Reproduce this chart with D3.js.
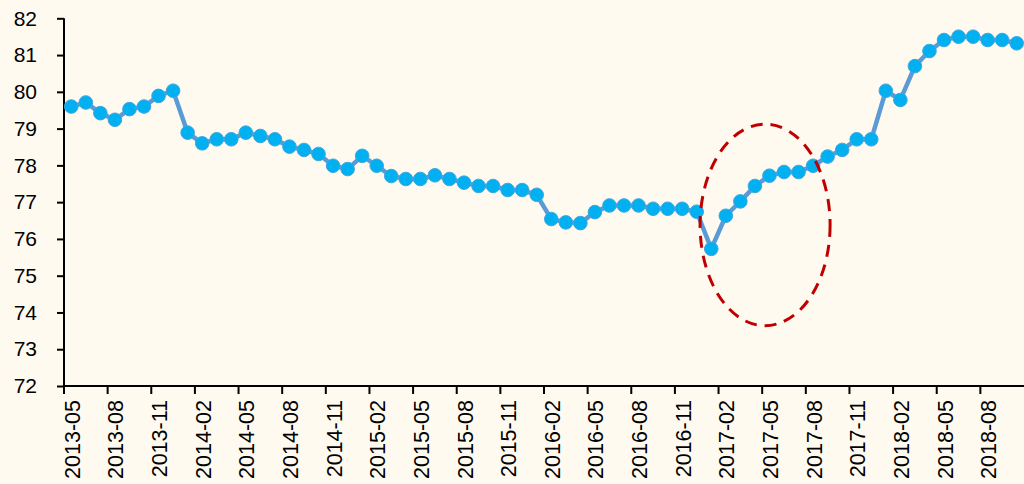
<!DOCTYPE html>
<html><head><meta charset="utf-8">
<script src="https://cdn.jsdelivr.net/npm/d3@7"></script>
<style>body{margin:0;background:#fffaf0;}svg{display:block;}</style>
</head><body>
<script>
const categories = ["2013-05","2013-06","2013-07","2013-08","2013-09","2013-10","2013-11","2013-12",
"2014-01","2014-02","2014-03","2014-04","2014-05","2014-06","2014-07","2014-08","2014-09","2014-10","2014-11","2014-12",
"2015-01","2015-02","2015-03","2015-04","2015-05","2015-06","2015-07","2015-08","2015-09","2015-10","2015-11","2015-12",
"2016-01","2016-02","2016-03","2016-04","2016-05","2016-06","2016-07","2016-08","2016-09","2016-10","2016-11","2016-12",
"2017-01","2017-02","2017-03","2017-04","2017-05","2017-06","2017-07","2017-08","2017-09","2017-10","2017-11","2017-12",
"2018-01","2018-02","2018-03","2018-04","2018-05","2018-06","2018-07","2018-08","2018-09","2018-10"];
const values = [79.60,79.71,79.42,79.24,79.53,79.60,79.89,80.03,78.89,78.60,78.71,78.71,78.89,78.80,78.71,78.51,78.42,78.31,77.99,77.90,78.26,77.99,
77.71,77.63,77.63,77.73,77.63,77.53,77.44,77.44,77.33,77.33,77.20,76.54,76.45,76.43,76.73,76.91,76.91,76.91,76.82,76.82,76.82,76.74,
75.73,76.63,77.02,77.44,77.72,77.82,77.82,77.99,78.24,78.42,78.71,78.71,80.03,79.78,80.70,81.11,81.41,81.50,81.50,81.41,81.41,81.32];
const yTicks = [72,73,74,75,76,77,78,79,80,81,82];
const xTickLabels = categories.filter((d,i)=>i%3===0);
// annotation ellipse (data coords: center category index, center value, half-width in months, half-height in units)
const ellipseSpec = {cIndex: 47.7, cValue: 76.38, rMonths: 4.47, rUnits: 2.74};

const W=1024,H=484;
const svg=d3.select("body").append("svg").attr("width",W).attr("height",H);
svg.append("rect").attr("width",W).attr("height",H).attr("fill","#fffaf0");

const x=d3.scaleBand().domain(categories).range([64,1024]).paddingInner(0).paddingOuter(0);
const bw=x.bandwidth();
const cx=d=>x(d)+bw/2;
const y=d3.scaleLinear().domain([72,82]).range([386,18.3]);
const font="'Liberation Sans', Arial, sans-serif";

// y axis
const yAxis=svg.append("g").attr("transform","translate(64,0)")
 .call(d3.axisLeft(y).tickValues(yTicks).tickSize(7).tickPadding(20).tickFormat(d3.format("d")));
yAxis.select(".domain").attr("stroke","#000").attr("stroke-width",2).attr("d","M0,18.3V386");
yAxis.selectAll(".tick line").attr("stroke","#000").attr("stroke-width",2);
yAxis.selectAll("text").attr("font-family",font).attr("font-size",21).attr("fill","#000");

// x axis
const xAxisG=svg.append("g").attr("transform","translate(0,386)");
xAxisG.append("line").attr("x1",64).attr("x2",1024).attr("y1",0).attr("y2",0).attr("stroke","#000").attr("stroke-width",2);
xAxisG.selectAll("line.tk").data(xTickLabels).enter().append("line").attr("class","tk")
 .attr("x1",d=>x(d)).attr("x2",d=>x(d)).attr("y1",0).attr("y2",8).attr("stroke","#000").attr("stroke-width",2);
xAxisG.selectAll("text").data(xTickLabels).enter().append("text")
 .attr("transform",d=>`translate(${cx(d)+1},14) rotate(-90)`)
 .attr("text-anchor","end").attr("dy","0.35em")
 .attr("font-family",font).attr("font-size",21.5).attr("fill","#000").text(d=>d);

// line
const line=d3.line().x((d,i)=>cx(categories[i])).y(d=>y(d));
svg.append("path").datum(values).attr("d",line).attr("fill","none")
 .attr("stroke","#5b9bd5").attr("stroke-width",4.5).attr("stroke-linejoin","round");
svg.selectAll("circle.pt").data(values).enter().append("circle").attr("class","pt")
 .attr("cx",(d,i)=>cx(categories[i])).attr("cy",d=>y(d)).attr("r",6.8)
 .attr("fill","#00b0f0").attr("stroke","#3fa6e0").attr("stroke-width",1);

// ellipse annotation
const ex=64+bw*(ellipseSpec.cIndex+0.5);
svg.append("ellipse").attr("cx",ex).attr("cy",y(ellipseSpec.cValue))
 .attr("rx",bw*ellipseSpec.rMonths).attr("ry",Math.abs(y(0)-y(ellipseSpec.rUnits)))
 .attr("fill","none").attr("stroke","#c00000").attr("stroke-width",3).attr("stroke-dasharray","12,8");
</script>
</body></html>
